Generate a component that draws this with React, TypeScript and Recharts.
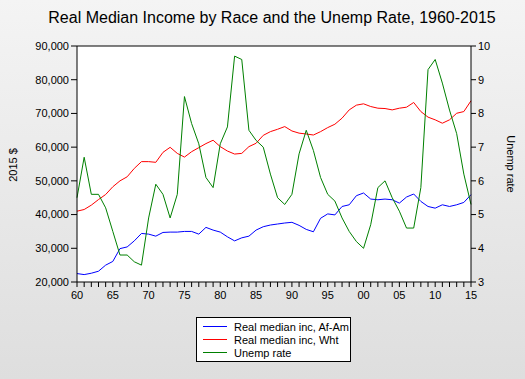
import React from 'react';
import { ComposedChart, Line, XAxis, YAxis, CartesianGrid, ReferenceLine, Legend } from 'recharts';

const years = [
  1960, 1961, 1962, 1963, 1964, 1965, 1966, 1967, 1968, 1969,
  1970, 1971, 1972, 1973, 1974, 1975, 1976, 1977, 1978, 1979,
  1980, 1981, 1982, 1983, 1984, 1985, 1986, 1987, 1988, 1989,
  1990, 1991, 1992, 1993, 1994, 1995, 1996, 1997, 1998, 1999,
  2000, 2001, 2002, 2003, 2004, 2005, 2006, 2007, 2008, 2009,
  2010, 2011, 2012, 2013, 2014, 2015,
];

const incomeAfAm = [
  22500, 22200, 22600, 23200, 25000, 26100, 29900, 30400, 32200, 34400,
  34200, 33600, 34700, 34800, 34800, 35000, 35000, 34200, 36200, 35400,
  34800, 33400, 32200, 33100, 33600, 35400, 36400, 36900, 37200, 37500,
  37700, 36800, 35600, 34900, 38900, 40200, 39900, 42400, 42900, 45600,
  46400, 44600, 44400, 44600, 44400, 43400, 45200, 46100, 43900, 42400,
  41900, 42900, 42400, 42900, 43600, 45900,
];

const incomeWht = [
  41000, 41500, 42800, 44450, 45950, 48250, 50000, 51200, 53700, 55700,
  55700, 55500, 58450, 59950, 58150, 57050, 58650, 59850, 61050, 62050,
  60150, 58850, 57950, 58150, 60150, 61150, 63500, 64600, 65300, 66100,
  64800, 64150, 63900, 63600, 64600, 65800, 66800, 68600, 71050, 72450,
  72850, 72050, 71550, 71450, 71050, 71550, 71850, 73250, 70550, 68900,
  68100, 67100, 68100, 70050, 70550, 73750,
];

const unempRate = [
  5.5, 6.7, 5.6, 5.6, 5.2, 4.5, 3.8, 3.8, 3.6, 3.5,
  4.9, 5.9, 5.6, 4.9, 5.6, 8.5, 7.7, 7.1, 6.1, 5.8,
  7.1, 7.6, 9.7, 9.6, 7.5, 7.2, 7.0, 6.2, 5.5, 5.3,
  5.6, 6.8, 7.5, 6.9, 6.1, 5.6, 5.4, 4.9, 4.5, 4.2,
  4.0, 4.7, 5.8, 6.0, 5.5, 5.1, 4.6, 4.6, 5.8, 9.3,
  9.6, 8.9, 8.1, 7.4, 6.2, 5.3,
];

const leftTicks = [20000, 30000, 40000, 50000, 60000, 70000, 80000, 90000];
const rightTicks = [3, 4, 5, 6, 7, 8, 9, 10];

const seriesNames = ['Real median inc, Af-Am', 'Real median inc, Wht', 'Unemp rate'];
const seriesColors = ['#0000ff', '#ff0000', '#008000'];

const titleText = 'Real Median Income by Race and the Unemp Rate, 1960-2015';
const leftLabel = '2015 $';
const rightLabel = 'Unemp rate';

const data = years.map((y, i) => ({
  year: y,
  afam: incomeAfAm[i],
  wht: incomeWht[i],
  unemp: unempRate[i],
}));

const FONT = '"Liberation Sans", Arial, sans-serif';

const fmtYear = (v: number) => (v % 5 === 0 ? String(v % 100).padStart(2, '0') : '');
const fmtThousands = (v: number) => v.toLocaleString('en-US');

const LegendBox = () => (
  <div
    style={{
      width: 155,
      height: 45,
      background: '#fff',
      border: '1px solid #000',
      boxSizing: 'border-box',
      position: 'relative',
      fontFamily: FONT,
      fontSize: 11,
      color: '#000',
    }}
  >
    {seriesNames.map((n, i) => (
      <div
        key={n}
        style={{
          position: 'absolute',
          left: 6,
          top: 2 + i * 13.2,
          height: 13,
          display: 'flex',
          alignItems: 'center',
          whiteSpace: 'nowrap',
        }}
      >
        <span style={{ display: 'inline-block', width: 24, height: 1, background: seriesColors[i], marginRight: 7 }} />
        <span>{n}</span>
      </div>
    ))}
  </div>
);

export default function App() {
  return (
    <div
      style={{
        position: 'absolute',
        left: 0,
        top: 0,
        width: 525,
        height: 379,
        background: 'linear-gradient(#f4f4f4, #dedede)',
        fontFamily: FONT,
      }}
    >
      <ComposedChart
        width={525}
        height={379}
        data={data}
        margin={{ top: 46, right: 0, bottom: 0, left: 0 }}
      >
        <CartesianGrid yAxisId="left" horizontal={false} vertical={false} fill="#ffffff" />
        <XAxis
          dataKey="year"
          type="number"
          domain={[1960, 2015]}
          ticks={years}
          interval={0}
          tickFormatter={fmtYear}
          height={97}
          tickSize={5}
          tickMargin={4}
          stroke="#000"
          tick={{ fill: '#000', fontSize: 11, fontFamily: FONT }}
          axisLine={{ stroke: '#000' }}
          tickLine={{ stroke: '#000' }}
        />
        <YAxis
          yAxisId="left"
          orientation="left"
          domain={[20000, 90000]}
          ticks={leftTicks}
          tickFormatter={fmtThousands}
          width={77}
          tickSize={6}
          tickMargin={2}
          interval={0}
          stroke="#000"
          tick={{ fill: '#000', fontSize: 11, fontFamily: FONT }}
        />
        <YAxis
          yAxisId="right"
          orientation="right"
          domain={[3, 10]}
          ticks={rightTicks}
          width={54}
          tickSize={5}
          tickMargin={2}
          interval={0}
          stroke="#000"
          tick={{ fill: '#000', fontSize: 11, fontFamily: FONT }}
        />
        <ReferenceLine yAxisId="left" y={90000} stroke="#000" strokeWidth={1} />
        <Line yAxisId="left" dataKey="afam" stroke={seriesColors[0]} strokeWidth={1} dot={false} isAnimationActive={false} />
        <Line yAxisId="left" dataKey="wht" stroke={seriesColors[1]} strokeWidth={1} dot={false} isAnimationActive={false} />
        <Line yAxisId="right" dataKey="unemp" stroke={seriesColors[2]} strokeWidth={1} dot={false} isAnimationActive={false} />
        <Legend
          layout="vertical"
          align="center"
          verticalAlign="middle"
          content={() => <LegendBox />}
          wrapperStyle={{ left: 196, top: 317, width: 155, height: 45 }}
        />
      </ComposedChart>
      <svg
        width={525}
        height={379}
        style={{ position: 'absolute', left: 0, top: 0, pointerEvents: 'none' }}
      >
        <text x={272} y={23} textAnchor="middle" fontSize={16} fontFamily={FONT} fill="#000">
          {titleText}
        </text>
        <text
          x={13}
          y={165}
          textAnchor="middle"
          dominantBaseline="central"
          fontSize={11}
          fontFamily={FONT}
          fill="#000"
          transform="rotate(-90 13 165)"
        >
          {leftLabel}
        </text>
        <text
          x={511}
          y={164}
          textAnchor="middle"
          dominantBaseline="central"
          fontSize={11}
          fontFamily={FONT}
          fill="#000"
          transform="rotate(90 511 164)"
        >
          {rightLabel}
        </text>
      </svg>
    </div>
  );
}
